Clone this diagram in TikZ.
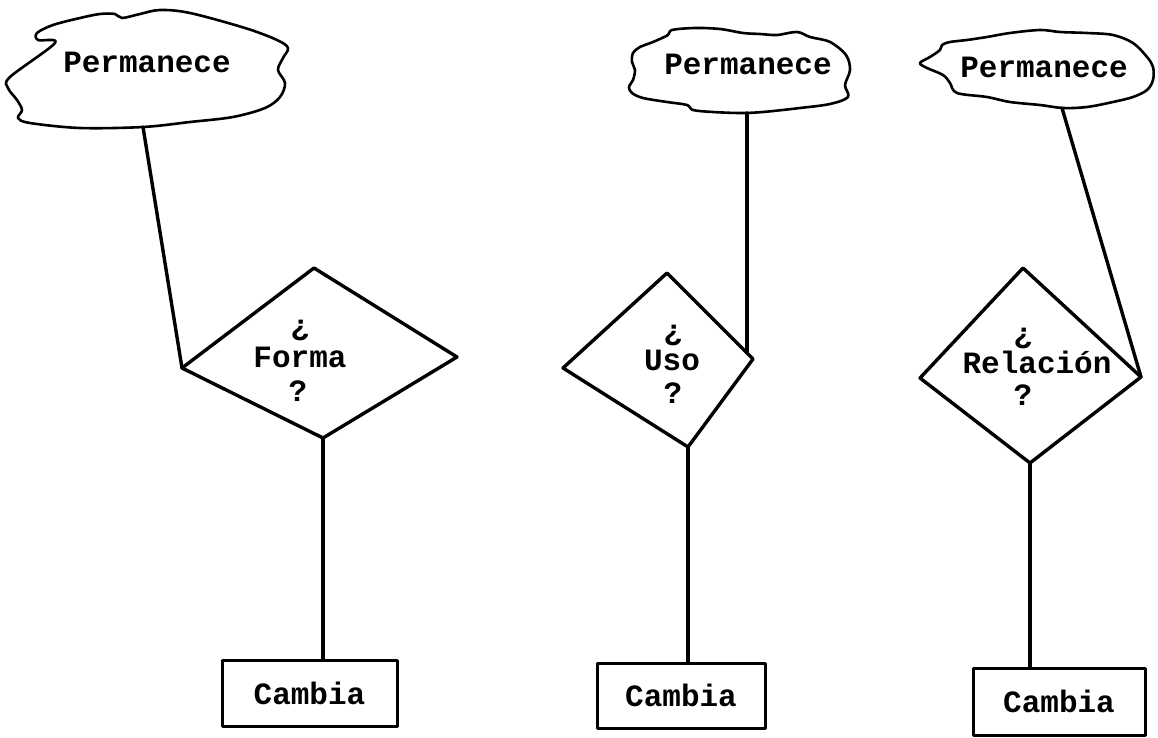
\documentclass[tikz,border=0pt]{standalone}
\usepackage{fontspec}
\setmonofont{Liberation Mono}
\begin{document}
\begin{tikzpicture}[x=1pt,y=-1pt,
  line join=round, line cap=round,
  lbl/.style={font=\ttfamily\bfseries\fontsize{31}{31}\selectfont, inner sep=0pt},
  cloudline/.style={line width=2.6pt},
  link/.style={line width=3.4pt},
  diamondline/.style={line width=3.4pt},
  box/.style={draw, line width=3pt, inner sep=0pt, lbl}
]
\useasboundingbox (0,0) rectangle (1158,738);

% ---------- clouds "Permanece" ----------
\draw[cloudline] plot[smooth cycle, tension=0.55] coordinates {
  (53,25) (37,33) (38,40) (55,43) (10,77) (8,88) (17,100) (22,110) (18,118)
  (30,123) (80,128) (143,127) (190,122) (233,117) (265,108) (280,97)
  (285,83) (278,70) (283,58) (288,48) (277,40) (245,28) (190,13)
  (160,10) (140,14) (122,18) (115,14) (100,14) (80,18)};
\coordinate (c1) at (143,127);
\node[lbl, anchor=base] (p1) at (147,73) {Permanece};

\draw[cloudline] plot[smooth cycle, tension=0.55] coordinates {
  (672,30) (668,35) (653,42) (640,47) (633,53) (632,62) (635,70) (633,80)
  (629,87) (632,93) (643,98) (667,102) (687,105) (693,110) (713,112)
  (740,113) (763,112) (800,108) (830,104) (848,97) (845,85) (850,70)
  (846,55) (830,42) (810,37) (797,32) (777,35) (760,34) (743,33) (720,29) (695,28)};
\coordinate (c2) at (747,113);
\node[lbl, anchor=base] (p2) at (748,75) {Permanece};

\draw[cloudline] plot[smooth cycle, tension=0.55] coordinates {
  (920,63) (930,57) (940,50) (942,45) (950,42) (967,40) (987,37) (1010,33)
  (1040,30) (1060,32) (1087,33) (1113,35) (1133,43) (1147,57) (1153,67)
  (1153,80) (1147,90) (1133,97) (1113,102) (1087,107) (1063,108)
  (1040,105) (1010,102) (987,97) (957,93) (950,83) (943,75) (927,68)};
\coordinate (c3) at (1062,108);
\node[lbl, anchor=base] (p3) at (1044,78) {Permanece};

% ---------- decision diamonds ----------
\coordinate (f-t) at (314,268);  \coordinate (f-l) at (182,368);
\coordinate (f-r) at (457,357);  \coordinate (f-b) at (323,438);
\draw[diamondline] (f-t) -- (f-r) -- (f-b) -- (f-l) -- cycle;
\node[lbl] (f-q1) at (300,330) {¿};
\node[lbl, anchor=base] (f-w) at (300,367) {Forma};
\node[lbl] (f-q2) at (298,391) {?};

\coordinate (u-t) at (667,273);  \coordinate (u-l) at (563,368);
\coordinate (u-r) at (753,359);  \coordinate (u-b) at (688,447);
\draw[diamondline] (u-t) -- (u-r) -- (u-b) -- (u-l) -- cycle;
\node[lbl] (u-q1) at (673,335) {¿};
\node[lbl, anchor=base] (u-w) at (672,370) {Uso};
\node[lbl] (u-q2) at (673,393) {?};
\coordinate (u-in) at (747,353);

\coordinate (r-t) at (1023,268); \coordinate (r-l) at (920,378);
\coordinate (r-r) at (1141,377); \coordinate (r-b) at (1030,463);
\draw[diamondline] (r-t) -- (r-r) -- (r-b) -- (r-l) -- cycle;
\node[lbl] (r-q1) at (1023,338) {¿};
\node[lbl, anchor=base] (r-w) at (1037,373) {Relación};
\node[lbl] (r-q2) at (1023,395) {?};

% ---------- boxes "Cambia" ----------
\node[box, minimum width=175pt, minimum height=66pt] (k1) at (309.5,693) {Cambia};
\node[box, minimum width=168pt, minimum height=65pt] (k2) at (681,695.5) {Cambia};
\node[box, minimum width=172pt, minimum height=67pt] (k3) at (1059,701.5) {Cambia};

% ---------- connectors ----------
\draw[link] (c1) -- (f-l);
\draw[link] (c2) -- (u-in);
\draw[link] (c3) -- (r-r);
\draw[link] (f-b) -- (f-b |- k1.north);
\draw[link] (u-b) -- (u-b |- k2.north);
\draw[link] (r-b) -- (r-b |- k3.north);
\end{tikzpicture}
\end{document}
